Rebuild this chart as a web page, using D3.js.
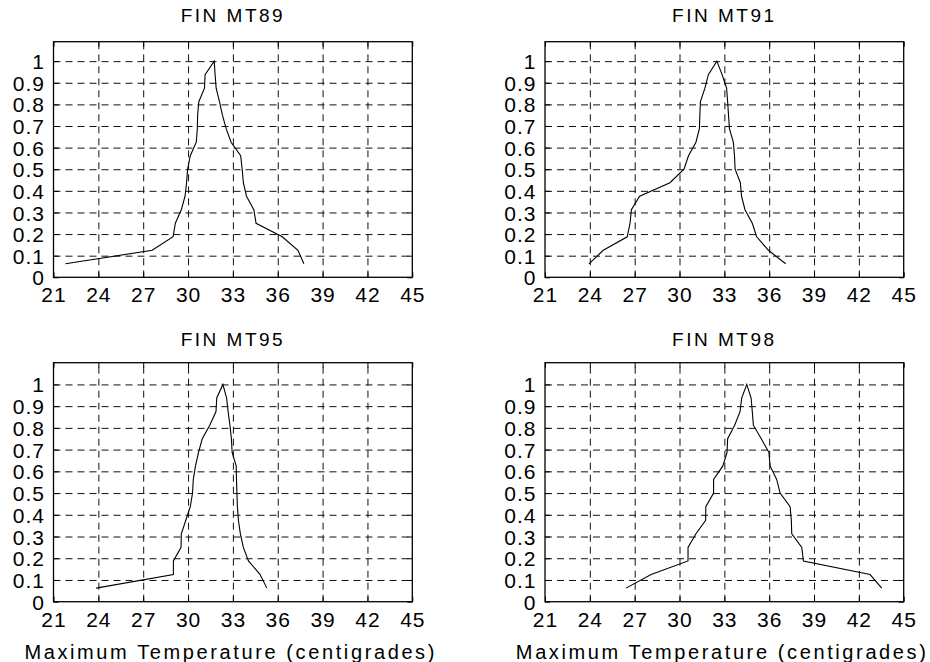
<!DOCTYPE html>
<html>
<head>
<meta charset="utf-8">
<script src="https://cdn.jsdelivr.net/npm/d3@7"></script>
<style>
  body { margin: 0; background: #fff; }
  svg { display: block; font-family: "Liberation Sans", Arial, sans-serif; }
</style>
</head>
<body>
<svg id="chart" width="930" height="662"></svg>
<script>
// --- data ---
var titles = [ "FIN MT89", "FIN MT91", "FIN MT95", "FIN MT98" ];
var xTicks = [ 21, 24, 27, 30, 33, 36, 39, 42, 45 ];
var yTicks = [ 0, 0.1, 0.2, 0.3, 0.4, 0.5, 0.6, 0.7, 0.8, 0.9, 1 ];
var yTickLabels = [ "0", "0.1", "0.2", "0.3", "0.4", "0.5", "0.6", "0.7", "0.8", "0.9", "1" ];
var xLabel = "Maximum Temperature (centigrades)";

// membership level of each point, up the left flank then down the right one
var membership = [ 0.0625, 0.125, 0.1875, 0.25, 0.3125, 0.375, 0.4375, 0.5, 0.5625, 0.625, 0.6875, 0.75, 0.8125, 0.875, 0.9375, 1,
    0.9375, 0.875, 0.8125, 0.75, 0.6875, 0.625, 0.5625, 0.5, 0.4375, 0.375, 0.3125, 0.25, 0.1875, 0.125, 0.0625 ];

var mt89 = [ 21.8, 27.6, 29.0, 29.15, 29.55, 29.8, 29.9, 29.97, 30.15, 30.55, 30.62, 30.64, 30.72, 31.1, 31.14, 31.75,
    31.81, 31.88, 32.1, 32.3, 32.55, 32.88, 33.52, 33.62, 33.7, 33.91, 34.4, 34.55, 36.3, 37.35, 37.75 ];
var mt91 = [ 23.94, 24.9, 26.5, 26.69, 26.78, 27.33, 29.36, 30.3, 30.6, 31.1, 31.33, 31.36, 31.4, 31.7, 31.93, 32.5,
    32.85, 33.15, 33.22, 33.28, 33.34, 33.6, 33.68, 33.72, 34.07, 34.15, 34.38, 34.87, 35.16, 35.95, 37.1 ];
var mt95 = [ 23.85, 29.02, 29.02, 29.53, 29.55, 29.85, 30.15, 30.3, 30.35, 30.5, 30.7, 30.95, 31.45, 31.87, 31.92, 32.33,
    32.58, 32.68, 32.8, 32.9, 32.95, 33.22, 33.24, 33.27, 33.3, 33.37, 33.5, 33.7, 34.04, 34.82, 35.27 ];
var mt98 = [ 26.42, 28.1, 30.57, 30.57, 31.1, 31.75, 31.76, 32.28, 32.28, 32.9, 33.18, 33.22, 33.69, 34.05, 34.16, 34.5,
    34.79, 34.87, 34.94, 35.47, 35.98, 36.06, 36.5, 36.73, 37.4, 37.48, 37.51, 38.18, 38.29, 42.75, 43.53 ];
var series = [ mt89, mt91, mt95, mt98 ];

// --- layout ---
var panels = [
    { left: 53.5, right: 412.3, top: 41.7, bottom: 277.3, yMax: 1.09, titleY: 22, label: false },
    { left: 545, right: 903.7, top: 41.7, bottom: 277.3, yMax: 1.09, titleY: 22, label: false },
    { left: 53.5, right: 412.3, top: 362.7, bottom: 601.7, yMax: 1.1, titleY: 346, label: true },
    { left: 545, right: 903.7, top: 362.7, bottom: 601.7, yMax: 1.1, titleY: 346, label: true }
];

var svg = d3.select( "#chart" );

panels.forEach( function( box, i ) {
    var w = box.right - box.left;
    var h = box.bottom - box.top;
    var x = d3.scaleLinear().domain( [ 21, 45 ] ).range( [ 0, w ] );
    var y = d3.scaleLinear().domain( [ 0, box.yMax ] ).range( [ h, 0 ] );

    var g = svg.append( "g" ).attr( "transform", "translate(" + box.left + "," + box.top + ")" );

    // dashed grid
    g.append( "g" )
        .attr( "transform", "translate(0," + h + ")" )
        .call( d3.axisBottom( x ).tickValues( xTicks.slice( 1, -1 ) ).tickSize( -h ).tickFormat( "" ) )
        .call( function( a ) { a.select( ".domain" ).remove(); } )
        .selectAll( "line" )
        .attr( "stroke", "#111" )
        .attr( "stroke-dasharray", "7,5" );

    g.append( "g" )
        .call( d3.axisLeft( y ).tickValues( yTicks.slice( 1 ) ).tickSize( -w ).tickFormat( "" ) )
        .call( function( a ) { a.select( ".domain" ).remove(); } )
        .selectAll( "line" )
        .attr( "stroke", "#111" )
        .attr( "stroke-dasharray", "7,5" );

    // inward ticks on the four sides, labels on bottom and left
    var bottomAxis = g.append( "g" )
        .attr( "transform", "translate(0," + h + ")" )
        .call( d3.axisBottom( x ).tickValues( xTicks ).tickSize( -5 ).tickFormat( d3.format( "d" ) ) );
    bottomAxis.select( ".domain" ).remove();
    bottomAxis.selectAll( "text" )
        .attr( "y", 25 )
        .attr( "dy", null )
        .attr( "font-size", 21 )
        .attr( "letter-spacing", 1 )
        .attr( "fill", "#000" );

    var leftAxis = g.append( "g" )
        .call( d3.axisLeft( y ).tickValues( yTicks ).tickSize( -5 ).tickPadding( 8.5 )
            .tickFormat( function( d, k ) { return yTickLabels[ k ]; } ) );
    leftAxis.select( ".domain" ).remove();
    leftAxis.selectAll( "text" )
        .attr( "dy", "0.36em" )
        .attr( "font-size", 21 )
        .attr( "letter-spacing", 1 )
        .attr( "fill", "#000" );

    var topAxis = g.append( "g" )
        .call( d3.axisTop( x ).tickValues( xTicks ).tickSize( -5 ).tickFormat( "" ) );
    topAxis.select( ".domain" ).remove();

    var rightAxis = g.append( "g" )
        .attr( "transform", "translate(" + w + ",0)" )
        .call( d3.axisRight( y ).tickValues( yTicks ).tickSize( -5 ).tickFormat( "" ) );
    rightAxis.select( ".domain" ).remove();

    g.selectAll( ".tick line" ).filter( function() {
        return !d3.select( this ).attr( "stroke-dasharray" );
    } ).attr( "stroke", "#000" );

    // frame
    g.append( "rect" )
        .attr( "width", w )
        .attr( "height", h )
        .attr( "fill", "none" )
        .attr( "stroke", "#000" )
        .attr( "stroke-width", 1.3 );

    // curve
    var line = d3.line()
        .x( function( d ) { return x( d[ 0 ] ); } )
        .y( function( d ) { return y( d[ 1 ] ); } );

    g.append( "path" )
        .datum( d3.zip( series[ i ], membership ) )
        .attr( "d", line )
        .attr( "fill", "none" )
        .attr( "stroke", "#000" )
        .attr( "stroke-width", 1.1 );

    // title
    svg.append( "text" )
        .attr( "x", box.left + w / 2 )
        .attr( "y", box.titleY )
        .attr( "text-anchor", "middle" )
        .attr( "font-size", 19 )
        .attr( "letter-spacing", 2.5 )
        .text( titles[ i ] );

    if ( box.label ) {
        svg.append( "text" )
            .attr( "x", box.left + w / 2 - 3.5 )
            .attr( "y", 659 )
            .attr( "text-anchor", "middle" )
            .attr( "font-size", 20 )
            .attr( "textLength", 410 )
            .attr( "lengthAdjust", "spacing" )
            .text( xLabel );
    }
} );
</script>
</body>
</html>
